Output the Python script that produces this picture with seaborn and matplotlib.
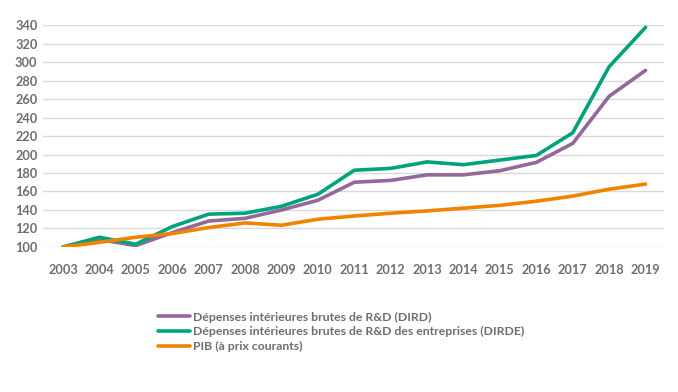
import numpy as np
import pandas as pd
import matplotlib
matplotlib.use("Agg")
import matplotlib.pyplot as plt
import seaborn as sns

# Données (indice base 100 en 2003)
annees = list(range(2003, 2020))
dird = [100, 108, 101.5, 115.5, 128, 131, 140, 150.5, 170, 172, 178, 178, 182.5, 191.5, 212, 263, 291]
dirde = [100, 110.5, 103, 122, 135.5, 136.5, 144, 157, 183, 185, 192, 189, 194, 199, 223.5, 295, 337.5]
pib = [100, 105, 110.5, 114.5, 121, 126, 123.5, 130, 133.5, 136.5, 139, 142, 145, 149.5, 155, 162.5, 168]

noms = ["Dépenses intérieures brutes de R&D (DIRD)",
        "Dépenses intérieures brutes de R&D des entreprises (DIRDE)",
        "PIB (à prix courants)"]
couleurs = ["#93699b", "#00a37a", "#f08300"]

df = pd.DataFrame({
    "annee": annees * 3,
    "idx": list(range(len(annees))) * 3,
    "valeur": dird + dirde + pib,
    "serie": [noms[0]] * len(annees) + [noms[1]] * len(annees) + [noms[2]] * len(annees),
})

sns.set_theme(style="white")
plt.rcParams["font.family"] = ["Lato", "DejaVu Sans"]

fig = plt.figure(figsize=(6.78, 3.92), dpi=100)
ax = fig.add_axes([0.0634, 0.370, 0.9156, 0.566])

sns.lineplot(data=df, x="idx", y="valeur", hue="serie", palette=couleurs,
             hue_order=noms, linewidth=2.6, ax=ax, legend=False)

ax.set_xlim(-0.55, len(annees) - 0.5)
ax.set_ylim(100, 340)
ax.set_yticks(np.arange(100, 341, 20))
ax.set_xticks(range(len(annees)))
ax.set_xticklabels([str(a) for a in annees])
ax.yaxis.grid(True, color="#d9d9d9", linewidth=1)
ax.set_axisbelow(True)
for s in ax.spines.values():
    s.set_visible(False)
ax.tick_params(axis="both", length=0, labelsize=9.2, labelcolor="#6e6e6e")
ax.tick_params(axis="x", pad=12)
ax.tick_params(axis="y", pad=4)
for lab in ax.get_xticklabels() + ax.get_yticklabels():
    lab.set_fontweight("bold")
ax.set_xlabel("")
ax.set_ylabel("")

poignees = [plt.Line2D([], [], color=c, linewidth=2.6) for c in couleurs]
leg = fig.legend(poignees, noms, loc="upper left", bbox_to_anchor=(0.233, 0.205),
                 frameon=False, handlelength=2.6, handletextpad=0.25,
                 labelspacing=0.3, borderpad=0, borderaxespad=0,
                 prop={"size": 8.8, "weight": "bold"})
for t in leg.get_texts():
    t.set_color("#6e6e6e")

fig.savefig("out.png", dpi=100)
